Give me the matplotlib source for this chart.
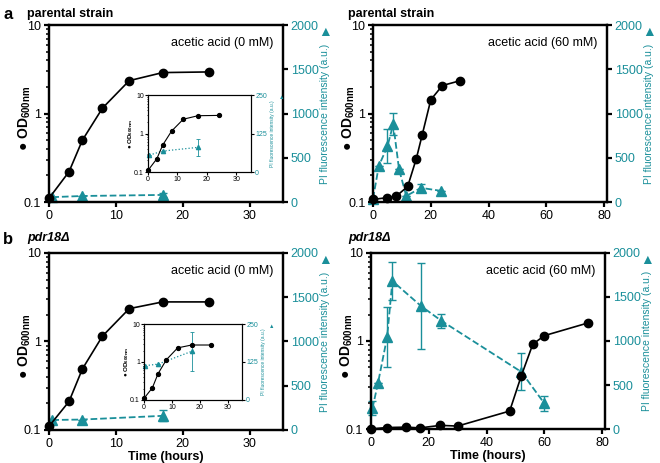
import numpy as np
import matplotlib
matplotlib.use('Agg')
import matplotlib.pyplot as plt

plt.rcParams['font.family'] = ['Liberation Sans', 'DejaVu Sans']
plt.rcParams['mathtext.default'] = 'regular'

teal = '#1a8f9a'

##### data #####
# parental strain, 0 mM
par0_t = [0, 3, 5, 8, 12, 17, 24]
par0_od = [0.11, 0.22, 0.50, 1.15, 2.35, 2.9, 2.95]
par0_pi_t = [0.5, 5, 17]
par0_pi = [55, 68, 80]
par0_pi_err = [0, 0, 27]

# parental strain, 60 mM
par60_t = [0, 5, 8, 12, 15, 17, 20, 24, 30]
par60_od = [0.107, 0.112, 0.116, 0.15, 0.31, 0.57, 1.43, 2.07, 2.34]
par60_pi_t = [0, 2, 5, 7, 9, 11.5, 16.6, 23.7]
par60_pi = [38, 408, 630, 880, 370, 68, 160, 125]
par60_pi_err = [0, 0, 190, 125, 0, 0, 45, 0]

# pdr18 deletion, 0 mM
pdr0_t = [0, 3, 5, 8, 12, 17, 24]
pdr0_od = [0.11, 0.21, 0.49, 1.15, 2.35, 2.8, 2.8]
pdr0_pi_t = [0.5, 5, 17]
pdr0_pi = [113, 118, 160]
pdr0_pi_err = [0, 0, 63]

# pdr18 deletion, 60 mM
pdr60_t = [0, 5.5, 12, 17, 24, 30, 48, 52, 56, 60, 75]
pdr60_od = [0.10, 0.104, 0.105, 0.103, 0.11, 0.108, 0.16, 0.40, 0.92, 1.15, 1.6]
pdr60_pi_t = [0.5, 2.4, 5.6, 7.4, 17.4, 24.4, 52, 60]
pdr60_pi = [234, 518, 1047, 1682, 1395, 1229, 650, 291]
pdr60_pi_err = [80, 0, 340, 212, 486, 76, 208, 83]


def style_axes(ax, ax2, xmax, xticks, pimax, piticks, small=False):
	lw = 0.8 if small else 1.6
	fs = 5 if small else 9
	ax.set_yscale('log')
	ax.set_ylim(0.1, 10)
	ax.set_xlim(0, xmax)
	ax.set_xticks(xticks)
	ax.set_yticks([0.1, 1, 10])
	ax.set_yticklabels(['0.1', '1', '10'])
	ax2.set_ylim(0, pimax)
	ax2.set_yticks(piticks)
	for a in (ax, ax2):
		for s in a.spines.values():
			s.set_linewidth(lw)
	ax.tick_params(labelsize=fs, width=lw, length=2 if small else 3.5, pad=1 if small else 2)
	ax.tick_params(which='minor', width=lw*0.7, length=1 if small else 2)
	ax2.tick_params(labelsize=fs, width=lw, length=2 if small else 3.5, colors=teal, pad=1 if small else 2)
	ax2.spines['right'].set_color('black')
	ax2.tick_params(axis='y', color='black')
	if small:
		ax.set_ylabel('● OD$_{600nm}$', fontsize=4.5, fontweight='bold')
		ax.yaxis.set_label_coords(-0.13, 0.5)
		ax2.set_ylabel('PI fluorescence intensity (a.u.)', fontsize=3.5, color=teal, labelpad=2)
		ax.text(1.30, 0.97, '▲', transform=ax.transAxes, ha='center', va='center',
			fontsize=4, color=teal, clip_on=False)
	else:
		ax.set_ylabel('● OD$_{600nm}$', fontsize=10, fontweight='bold')
		ax.yaxis.set_label_coords(-0.068, 0.47)
		ax2.set_ylabel('PI fluorescence intensity (a.u.)', fontsize=7.5, color=teal, labelpad=1)
		ax.text(1.18, 0.96, '▲', transform=ax.transAxes, ha='center', va='center',
			fontsize=10, color=teal, clip_on=False)


def panel(rect, t, od, pit, pi, pierr, xmax, xticks, label):
	ax = fig.add_axes(rect)
	ax2 = ax.twinx()
	ax2.errorbar(pit, pi, yerr=pierr, color=teal, ls='--', lw=1.3, marker='^', ms=6.5,
		capsize=3, elinewidth=1, capthick=1, clip_on=False)
	ax.plot(t, od, color='black', lw=1.2, marker='o', ms=6, clip_on=False, zorder=5)
	ax.set_zorder(ax2.get_zorder()+1)
	ax.patch.set_visible(False)
	style_axes(ax, ax2, xmax, xticks, 2000, [0, 500, 1000, 1500, 2000])
	ax.text(0.96, 0.93, label, transform=ax.transAxes, ha='right', va='top', fontsize=9)
	return ax


def inset(rect, t, od, pit, pi, pierr):
	ax = fig.add_axes(rect)
	ax2 = ax.twinx()
	ax2.errorbar(pit, pi, yerr=pierr, color=teal, ls=':', lw=0.9, marker='^', ms=3,
		capsize=1.5, elinewidth=0.6, capthick=0.6, clip_on=False)
	ax.plot(t, od, color='black', lw=0.8, marker='o', ms=2.8, clip_on=False, zorder=5)
	ax.set_zorder(ax2.get_zorder()+1)
	ax.patch.set_visible(False)
	style_axes(ax, ax2, 35, [0, 10, 20, 30], 250, [0, 125, 250], small=True)


fig = plt.figure(figsize=(6.6, 4.63), dpi=100)

a1 = panel([0.0742, 0.5637, 0.3546, 0.3823], par0_t, par0_od, par0_pi_t, par0_pi, par0_pi_err,
	35, [0, 10, 20, 30], 'acetic acid (0 mM)')
a2 = panel([0.5652, 0.5637, 0.3545, 0.3823], par60_t, par60_od, par60_pi_t, par60_pi, par60_pi_err,
	81, [0, 20, 40, 60, 80], 'acetic acid (60 mM)')
a3 = panel([0.0742, 0.0713, 0.3546, 0.3823], pdr0_t, pdr0_od, pdr0_pi_t, pdr0_pi, pdr0_pi_err,
	35, [0, 10, 20, 30], 'acetic acid (0 mM)')
a4 = panel([0.5621, 0.0734, 0.3546, 0.3802], pdr60_t, pdr60_od, pdr60_pi_t, pdr60_pi, pdr60_pi_err,
	81, [0, 20, 40, 60, 80], 'acetic acid (60 mM)')

inset([0.2242, 0.6285, 0.1561, 0.1663], par0_t, par0_od, par0_pi_t, par0_pi, par0_pi_err)
inset([0.2182, 0.1361, 0.1485, 0.1641], pdr0_t, pdr0_od, pdr0_pi_t, pdr0_pi, pdr0_pi_err)

a3.set_xlabel('Time (hours)', fontsize=9, fontweight='bold', labelpad=1)
a4.set_xlabel('Time (hours)', fontsize=9, fontweight='bold', labelpad=1)

fig.text(0.005, 0.968, 'a', fontsize=12, fontweight='bold', va='center')
fig.text(0.005, 0.483, 'b', fontsize=12, fontweight='bold', va='center')
fig.text(0.041, 0.970, 'parental strain', fontsize=9, fontweight='bold', va='center')
fig.text(0.527, 0.970, 'parental strain', fontsize=9, fontweight='bold', va='center')
fig.text(0.041, 0.485, 'pdr18Δ', fontsize=9, fontweight='bold', style='italic', va='center')
fig.text(0.527, 0.485, 'pdr18Δ', fontsize=9, fontweight='bold', style='italic', va='center')

fig.savefig('out.png', dpi=100)
